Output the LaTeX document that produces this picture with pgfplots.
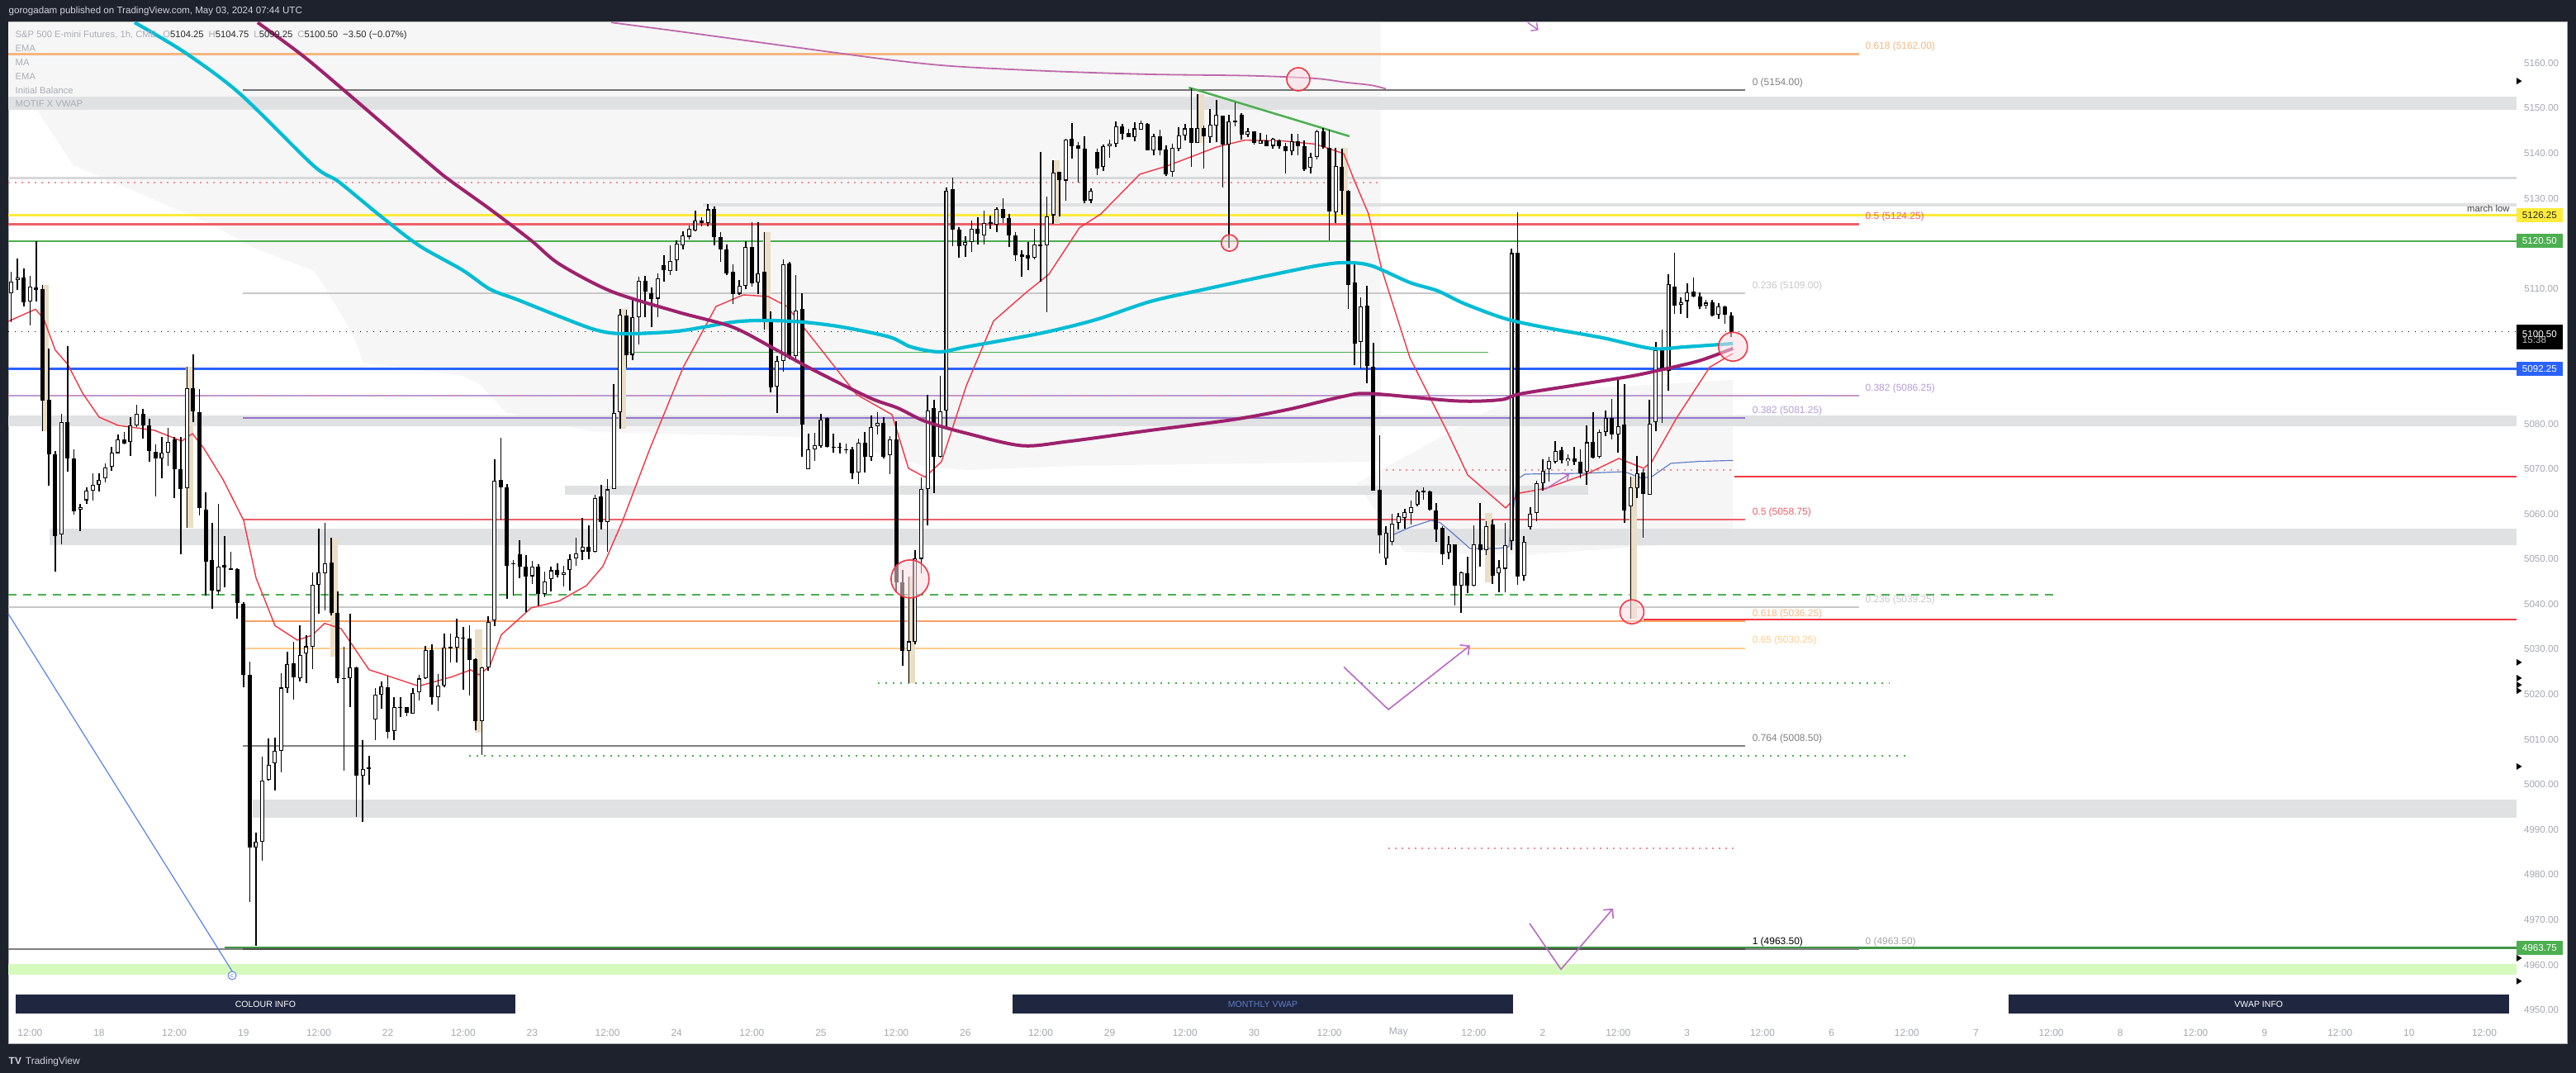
\documentclass[border=0pt]{standalone}
\usepackage{pgfplots}
\usepackage{pgfplotstable}
\usepackage{fontspec}
\setmainfont{Liberation Sans}
\pgfplotsset{compat=1.18}
\usetikzlibrary{arrows.meta}

\definecolor{tvdark}{RGB}{30,34,45}
\definecolor{tvtick}{RGB}{165,168,178}
\definecolor{legray}{RGB}{170,173,182}
\definecolor{tvband}{RGB}{224,225,227}
\definecolor{tvshade}{RGB}{246,246,246}
\definecolor{tvcyan}{RGB}{0,188,212}
\definecolor{tvmag}{RGB}{158,33,108}
\definecolor{tvred}{RGB}{242,54,69}
\definecolor{tvmauve}{RGB}{190,105,170}
\definecolor{fibor}{RGB}{247,182,130}
\definecolor{fibred}{RGB}{240,95,105}
\definecolor{fibpur}{RGB}{179,157,219}
\definecolor{fibpur2}{RGB}{149,117,205}
\definecolor{fibgray}{RGB}{200,200,200}
\definecolor{fiblor}{RGB}{255,205,140}
\definecolor{fibor2}{RGB}{247,160,100}
\definecolor{tvyellow}{RGB}{255,235,59}
\definecolor{tvgreen}{RGB}{76,175,80}
\definecolor{tvblue}{RGB}{41,98,255}
\definecolor{lgreen}{RGB}{214,250,190}
\definecolor{navy}{RGB}{31,38,64}
\definecolor{beige}{RGB}{234,222,198}
\definecolor{pinkdot}{RGB}{245,140,150}
\definecolor{tvpurple}{RGB}{186,104,200}
\definecolor{diagblue}{RGB}{90,130,240}
\definecolor{vwapblue}{RGB}{95,125,200}
\definecolor{circfill}{RGB}{250,222,226}
\definecolor{hline}{RGB}{215,216,220}

\newcommand\fs[1]{\fontsize{#1}{#1}\selectfont}
\newcommand\scalemark[1]{\fill[black] (axis cs:385.13,#1) ++(0cm,0.04cm) -- ++(0.065cm,-0.04cm) -- ++(-0.065cm,-0.04cm) -- cycle;}

% hourly candles: bar index (0 = Apr 18 00:00), open high low close
\pgfplotstableread{
i o h l c
-14 5109.1 5113.9 5102.7 5111.7
-13 5111.9 5116.8 5109.8 5112.5
-12 5112.5 5114.6 5106.2 5107.0
-11 5107.2 5112.8 5101.9 5110.6
-10 5110.4 5120.6 5107.2 5109.8
-9 5109.8 5110.7 5078.3 5085.2
-8 5085.4 5096.7 5066.4 5073.4
-7 5073.4 5074.0 5047.2 5055.2
-6 5055.4 5082.3 5053.3 5080.4
-5 5080.4 5097.2 5069.5 5072.4
-4 5072.5 5074.5 5059.9 5060.8
-3 5061.1 5062.3 5056.3 5061.7
-2 5063.1 5066.0 5062.3 5065.2
-1 5065.2 5069.2 5063.2 5066.5
0 5066.6 5069.2 5065.0 5067.6
1 5068.0 5071.4 5067.1 5070.5
2 5070.5 5075.1 5069.8 5073.7
3 5073.7 5077.7 5073.5 5076.7
4 5076.7 5078.3 5075.4 5075.8
5 5076.1 5081.5 5073.0 5079.7
6 5079.7 5084.3 5079.3 5082.2
7 5082.2 5083.3 5076.7 5079.7
8 5079.7 5081.1 5071.6 5074.0
9 5073.9 5075.4 5063.9 5072.4
10 5072.4 5077.1 5067.9 5073.7
11 5073.7 5079.3 5070.8 5076.1
12 5076.6 5077.3 5063.6 5070.0
13 5070.0 5077.2 5051.2 5065.7
14 5065.7 5092.6 5057.0 5087.8
15 5087.8 5095.5 5080.4 5082.8
16 5082.8 5087.8 5059.7 5061.5
17 5061.1 5065.0 5042.1 5049.4
18 5049.8 5058.1 5039.2 5043.0
19 5043.0 5062.3 5042.1 5048.4
20 5048.7 5055.2 5043.7 5048.2
21 5048.0 5051.7 5047.5 5047.6
22 5047.8 5048.0 5036.8 5040.2
23 5040.2 5040.5 5021.6 5024.4
24 5024.4 5027.3 4974.1 4986.1
25 4986.1 4989.3 4964.2 4987.4
26 4987.4 5006.2 4983.2 5000.9
27 5001.2 5010.3 5001.0 5004.4
28 5004.9 5010.5 4998.8 5007.6
29 5007.6 5024.9 5002.8 5021.6
30 5021.6 5029.6 5020.4 5026.9
31 5026.9 5031.7 5018.8 5023.8
32 5023.8 5035.4 5023.0 5028.9
33 5029.2 5033.1 5022.5 5030.7
34 5030.6 5047.2 5025.7 5044.4
35 5044.3 5056.9 5037.9 5047.1
36 5047.1 5058.2 5038.8 5049.3
37 5049.3 5054.7 5037.5 5038.2
38 5038.2 5042.9 5022.5 5023.7
39 5023.6 5030.7 5003.1 5023.5
40 5023.6 5037.9 5017.3 5026.0
41 5026.0 5026.2 4993.0 5002.1
42 5002.1 5009.9 4991.8 5003.6
43 5003.7 5006.4 5000.1 5003.8
44 5014.5 5021.5 5009.9 5020.1
45 5020.1 5022.9 5016.9 5022.0
46 5021.7 5024.2 5010.3 5011.7
47 5011.9 5019.5 5009.9 5017.3
48 5017.2 5019.5 5015.2 5017.1
49 5017.1 5017.3 5015.2 5015.9
50 5015.9 5021.5 5015.8 5020.4
51 5020.6 5024.4 5018.7 5023.6
52 5023.6 5030.7 5023.4 5030.0
53 5029.8 5031.3 5017.8 5019.5
54 5019.4 5024.5 5016.4 5022.0
55 5022.0 5033.5 5021.5 5030.4
56 5030.4 5033.5 5027.1 5030.5
57 5030.4 5036.7 5027.1 5032.8
58 5032.5 5035.1 5021.1 5032.5
59 5032.5 5035.3 5019.7 5027.9
60 5027.9 5028.0 5012.2 5014.1
61 5014.1 5026.2 5006.6 5026.0
62 5026.0 5037.4 5025.3 5036.0
63 5036.5 5072.2 5035.1 5067.5
64 5067.5 5077.0 5058.9 5065.9
65 5065.9 5066.6 5041.2 5048.6
66 5049.1 5049.8 5041.9 5049.0
67 5051.2 5054.3 5045.8 5048.5
68 5048.5 5051.0 5038.4 5046.3
69 5046.3 5049.6 5044.4 5048.5
70 5048.5 5048.8 5039.8 5042.3
71 5042.3 5047.3 5041.6 5045.1
72 5045.6 5048.4 5043.0 5047.6
73 5047.7 5049.1 5046.0 5046.6
74 5046.6 5048.6 5044.0 5047.2
75 5047.7 5051.0 5043.0 5050.2
76 5050.2 5054.7 5048.6 5051.4
77 5051.7 5059.2 5049.9 5052.7
78 5052.7 5057.5 5050.0 5051.7
79 5051.7 5064.3 5051.4 5063.6
80 5063.9 5066.6 5056.6 5058.2
81 5058.2 5067.8 5051.6 5065.5
82 5065.7 5088.9 5065.6 5082.6
83 5082.6 5105.6 5078.9 5104.2
84 5104.2 5105.3 5092.6 5095.3
85 5095.3 5108.0 5094.1 5103.7
86 5103.8 5112.8 5097.7 5111.8
87 5111.8 5112.8 5103.7 5109.3
88 5109.1 5110.3 5101.5 5107.8
89 5107.8 5113.4 5103.7 5112.3
90 5115.2 5117.5 5111.6 5114.2
91 5114.0 5119.6 5113.0 5116.2
92 5116.2 5120.9 5114.0 5120.0
93 5119.7 5122.8 5118.7 5121.8
94 5121.5 5123.9 5120.9 5123.3
95 5123.1 5127.3 5122.8 5125.2
96 5125.2 5126.0 5123.9 5124.5
97 5124.5 5128.8 5123.9 5127.6
98 5127.6 5128.2 5119.6 5121.5
99 5121.5 5122.5 5116.0 5118.8
100 5118.8 5119.8 5113.0 5113.4
101 5113.8 5115.4 5106.7 5108.9
102 5108.9 5111.9 5108.6 5110.6
103 5110.6 5120.5 5110.0 5119.3
104 5119.4 5124.8 5110.6 5111.3
105 5111.3 5124.8 5108.8 5113.4
106 5113.8 5122.5 5100.9 5103.3
107 5103.0 5105.0 5087.1 5088.2
108 5088.2 5095.1 5082.4 5094.0
109 5094.0 5116.6 5091.6 5115.5
110 5115.5 5116.0 5094.3 5095.1
111 5095.1 5113.1 5093.6 5105.2
112 5105.6 5109.1 5072.7 5079.9
113 5070.1 5077.9 5070.1 5074.5
114 5074.5 5078.1 5071.9 5075.3
115 5075.1 5082.2 5074.7 5081.1
116 5081.4 5081.6 5074.7 5074.9
117 5074.9 5077.9 5073.6 5074.8
118 5074.9 5075.9 5073.6 5074.9
119 5074.5 5075.7 5073.4 5074.4
120 5074.4 5074.9 5067.7 5069.2
121 5069.2 5076.9 5066.7 5075.9
122 5075.9 5078.3 5069.2 5072.7
123 5072.7 5081.9 5071.9 5079.4
124 5079.4 5082.8 5077.7 5080.2
125 5080.2 5081.6 5072.3 5072.7
126 5073.2 5077.2 5068.7 5076.6
127 5076.6 5080.7 5042.8 5045.0
128 5045.0 5047.6 5026.3 5029.7
129 5029.7 5046.3 5022.6 5031.8
130 5031.8 5052.1 5031.2 5050.2
131 5050.2 5068.2 5046.9 5065.7
132 5065.7 5086.5 5057.5 5083.1
133 5083.5 5085.4 5064.8 5072.7
134 5072.7 5090.8 5072.7 5082.9
135 5082.9 5132.5 5079.4 5131.7
136 5132.1 5134.7 5119.5 5123.1
137 5123.1 5123.7 5117.0 5119.5
138 5119.7 5121.6 5117.1 5120.4
139 5120.4 5125.2 5118.3 5123.3
140 5123.3 5125.9 5119.8 5122.2
141 5121.8 5127.4 5119.9 5124.6
142 5124.7 5126.2 5123.2 5124.4
143 5124.3 5128.0 5122.6 5127.7
144 5127.7 5130.0 5124.6 5125.8
145 5125.8 5126.6 5119.3 5121.8
146 5121.8 5122.6 5116.2 5117.5
147 5117.7 5118.5 5112.7 5117.1
148 5117.5 5120.3 5114.2 5116.8
149 5116.8 5123.3 5116.5 5119.8
150 5119.7 5140.4 5111.6 5119.6
151 5119.7 5130.5 5104.9 5126.1
152 5126.4 5138.4 5124.4 5135.9
153 5135.9 5136.0 5126.0 5134.1
154 5134.1 5143.2 5129.4 5143.2
155 5143.2 5146.6 5138.8 5141.7
156 5141.8 5142.6 5133.5 5141.2
157 5141.2 5144.0 5129.1 5129.7
158 5129.7 5132.3 5129.1 5131.8
159 5140.4 5141.1 5135.1 5136.8
160 5137.0 5142.0 5136.2 5141.7
161 5141.7 5143.0 5139.0 5142.2
162 5142.2 5147.0 5141.4 5146.0
163 5146.0 5146.4 5142.9 5144.4
164 5144.5 5145.5 5143.7 5143.7
165 5143.6 5147.0 5142.9 5145.6
166 5145.2 5147.2 5145.2 5146.7
167 5146.6 5146.6 5140.6 5140.8
168 5140.8 5144.4 5139.6 5143.8
169 5143.8 5145.3 5139.6 5140.8
170 5140.9 5141.8 5135.1 5135.5
171 5135.9 5142.3 5134.9 5141.2
172 5141.1 5145.9 5140.5 5144.0
173 5144.0 5146.6 5142.9 5145.6
174 5145.6 5154.5 5137.0 5142.4
175 5142.3 5153.2 5142.3 5145.6
176 5145.6 5146.3 5136.8 5143.7
177 5143.7 5149.9 5142.4 5146.4
178 5146.3 5152.0 5142.6 5148.7
179 5148.5 5148.5 5132.5 5142.0
180 5142.0 5148.7 5119.2 5147.2
181 5147.2 5151.4 5146.0 5147.1
182 5148.5 5149.0 5143.2 5144.2
183 5144.2 5145.6 5143.6 5144.9
184 5144.9 5145.0 5142.0 5142.3
185 5142.3 5144.4 5142.2 5143.0
186 5143.0 5144.2 5141.7 5141.7
187 5141.7 5143.5 5141.2 5143.2
188 5143.0 5143.2 5141.2 5141.6
189 5141.6 5142.3 5135.5 5140.5
190 5140.5 5144.4 5139.7 5142.8
191 5142.8 5144.4 5139.7 5141.7
192 5141.7 5143.0 5136.2 5136.5
193 5136.8 5140.2 5135.5 5139.1
194 5139.3 5145.3 5138.8 5145.0
195 5144.9 5145.6 5141.1 5141.4
196 5141.2 5145.3 5120.7 5127.1
197 5127.1 5141.1 5124.4 5137.4
198 5137.1 5141.1 5126.5 5131.8
199 5131.8 5132.0 5105.7 5110.8
200 5111.3 5115.6 5093.1 5097.8
201 5098.2 5108.0 5092.2 5106.0
202 5106.3 5110.6 5089.0 5092.8
203 5092.7 5097.9 5065.1 5065.2
204 5065.4 5077.5 5051.3 5055.2
205 5050.2 5057.4 5048.7 5055.9
206 5053.8 5060.1 5053.1 5057.9
207 5058.1 5060.3 5056.7 5059.6
208 5059.2 5061.3 5056.9 5060.5
209 5060.3 5063.0 5057.8 5061.5
210 5062.1 5065.4 5061.8 5065.0
211 5065.0 5065.9 5063.2 5065.0
212 5065.0 5065.2 5060.8 5061.0
213 5061.0 5062.5 5054.0 5056.7
214 5057.0 5057.4 5048.7 5051.3
215 5051.4 5055.2 5050.1 5053.3
216 5053.3 5053.3 5039.8 5044.2
217 5044.2 5047.3 5038.2 5047.1
218 5046.9 5050.7 5042.6 5044.2
219 5044.2 5057.4 5044.0 5053.3
220 5053.3 5062.5 5048.4 5052.0
221 5052.0 5058.5 5051.0 5057.4
222 5057.8 5058.9 5044.6 5046.3
223 5046.8 5049.8 5042.7 5048.2
224 5048.0 5058.1 5042.7 5053.3
225 5054.0 5118.9 5052.0 5117.9
226 5118.0 5126.9 5044.4 5046.2
227 5046.3 5055.2 5045.3 5053.8
228 5057.2 5061.7 5056.7 5060.1
229 5060.3 5067.5 5058.4 5066.8
230 5067.0 5072.2 5065.2 5069.7
231 5069.9 5072.6 5067.2 5071.7
232 5071.7 5076.2 5071.2 5074.1
233 5074.1 5074.8 5071.2 5071.9
234 5071.9 5073.3 5070.8 5072.4
235 5072.4 5074.8 5070.8 5071.7
236 5071.7 5074.4 5067.9 5069.0
237 5069.4 5079.7 5066.5 5076.0
238 5076.0 5082.7 5072.4 5072.6
239 5072.6 5078.9 5072.4 5078.2
240 5078.2 5083.1 5077.3 5081.3
241 5081.3 5085.6 5076.6 5077.7
242 5077.7 5090.0 5073.7 5079.5
243 5079.9 5088.9 5058.1 5061.0
244 5061.8 5068.3 5036.8 5065.9
245 5065.9 5073.1 5063.6 5069.2
246 5069.3 5070.1 5054.9 5064.4
247 5064.4 5085.4 5064.4 5080.2
248 5080.4 5098.2 5078.4 5096.3
249 5096.3 5100.9 5080.2 5091.8
250 5091.8 5113.2 5087.3 5111.1
251 5110.4 5118.0 5104.5 5106.3
252 5106.4 5108.1 5104.5 5107.0
253 5107.2 5111.2 5103.5 5109.2
254 5109.3 5112.4 5108.1 5108.3
255 5108.3 5109.2 5105.6 5106.2
256 5106.3 5107.4 5105.4 5107.0
257 5107.0 5107.4 5103.8 5104.1
258 5104.3 5106.9 5103.3 5106.1
259 5106.1 5106.4 5102.3 5104.3
260 5104.25 5104.75 5099.25 5100.50
}\candles

% session highlight bars
\pgfplotstableread{
i lo hi
-8.6 5078.3 5110.7
14.4 5057.0 5092.6
37.4 5028.5 5054.7
60.4 5011.7 5034.6
83.4 5078.9 5105.6
106.4 5100.9 5122.5
129.4 5022.6 5046.3
152.4 5124.4 5138.4
175.4 5142.3 5153.2
198.4 5126.5 5141.2
221.4 5044.9 5060.3
244.4 5036.8 5068.3
}\hilite

\pgfplotstableread{
i p
5.66 5169.0
13.55 5162.45
22.37 5153.29
34.08 5137.35
38.16 5133.69
44.74 5126.18
50.92 5119.58
57.89 5114.09
62.24 5109.88
66.71 5107.49
73.29 5103.83
78.95 5100.90
83.29 5099.98
92.11 5100.53
100.92 5102.55
106.18 5102.92
112.24 5102.55
118.42 5101.45
125.92 5099.25
129.34 5097.05
133.82 5095.95
138.16 5097.05
150.0 5100.08
158.82 5103.10
167.5 5107.13
176.3 5109.88
185.1 5112.53
193.8 5115.0
198.3 5115.74
202.6 5115.1
208.8 5111.34
213.2 5109.51
217.5 5106.65
224.1 5103.28
230.7 5101.27
239.5 5099.07
247.4 5096.69
252.6 5097.05
260.3 5097.79
}\macyan

\pgfplotstableread{
i p
25.26 5169.0
32.37 5161.72
38.82 5154.2
52.89 5137.35
56.18 5133.69
62.24 5127.64
68.82 5120.68
73.29 5115.46
81.58 5109.38
92.11 5104.82
100.92 5101.45
107.5 5096.69
114.08 5091.74
122.76 5085.77
127.24 5083.5
131.58 5080.57
138.16 5077.91
146.97 5075.16
154.34 5076.08
167.5 5078.55
180.66 5080.93
189.47 5083.19
198.3 5086.1
202.6 5086.7
216.2 5085.07
223.3 5085.33
226.3 5086.61
235.1 5088.55
243.8 5090.5
248.3 5091.8
254.9 5093.97
260.3 5096.72
}\mamag

\pgfplotstableread{
i p
81.6 5169.0
94.1 5166.7
109.9 5163.7
125.5 5160.8
136.1 5159.3
151.7 5158.2
167.4 5157.5
183.2 5157.2
193.6 5156.6
198.7 5155.7
202.6 5155.1
205.0 5154.3
}\mamauve

\pgfplotstableread{
i p
-14.47 5102.73
-10.13 5105.39
-8.82 5103.28
-6.97 5096.32
-5.0 5093.2
-2.63 5086.8
0 5081.48
3.03 5079.65
8.82 5078.55
13.16 5076.17
14.87 5077.82
16.71 5074.52
19.74 5067.65
23.03 5058.58
25.0 5045.85
28.03 5035.23
31.58 5032.02
33.95 5033.12
35.92 5035.74
38.55 5034.59
43.03 5025.43
45.13 5024.51
50.92 5021.82
56.18 5023.87
59.21 5025.43
60.53 5024.33
62.24 5026.21
64.08 5033.21
68.82 5039.16
73.29 5040.7
77.63 5044.11
80.26 5048.38
83.29 5058.09
87.76 5074.52
93.03 5092.47
98.29 5106.03
102.63 5108.59
106.58 5108.23
109.61 5106.03
114.08 5098.15
120.66 5086.5
126.32 5082.03
128.95 5070.12
131.58 5068.18
134.21 5071.59
138.16 5088.44
142.5 5102.8
147.76 5109.2
151.32 5113.17
156.18 5123.47
159.61 5126.55
165.79 5135.34
170.13 5137.17
174.08 5139.26
178.03 5141.38
182.5 5142.9
188.55 5142.74
193.82 5142.01
198.29 5139.92
200.0 5133.87
202.24 5126.55
204.34 5114.27
208.82 5094.67
214.87 5078.0
218.03 5068.66
224.08 5061.33
226.32 5064.63
230.66 5065.73
237.24 5069.03
242.11 5072.32
246.05 5070.13
247.37 5071.59
251.32 5081.3
256.58 5092.53
260.26 5095.59
}\emared

\pgfplotstableread{
i p
206.3 5055.47
208.8 5057.03
212.2 5058.58
213.6 5058.12
215.4 5056.02
218.4 5052.35
222.8 5052.35
224.6 5052.72
225.9 5067.74
227.2 5068.84
236.8 5069.03
243.0 5069.39
245.7 5067.93
247.4 5068.3
250.4 5071.23
254.9 5071.66
260.3 5071.88
}\vwap

\begin{document}
\begin{tikzpicture}
\useasboundingbox (0,0) rectangle (31.19,12.99);
\fill[tvdark] (0,0) rectangle (31.19,12.99);
\fill[white, draw=gray!60, line width=0.01cm] (0.10,0.35) rectangle (31.08,12.72);
\node[anchor=west, inner sep=0, text={rgb,255:red,209;green,212;blue,220}, font=\fs{3.3}] at (0.10,12.85)
  {gorogadam published on TradingView.com, May 03, 2024 07:44 UTC};
\node[anchor=west, inner sep=0, text={rgb,255:red,209;green,212;blue,220}, font=\fs{3.4}] at (0.10,0.14)
  {\textbf{TV}\hspace{0.05cm}TradingView};

\begin{axis}[
  at={(0.10cm,0.63cm)}, anchor=south west,
  scale only axis, width=30.37cm, height=12.09cm,
  xmin=-14.47, xmax=385.13, ymin=4947.57, ymax=5169.04,
  clip=false,
  axis line style={draw=none},
  major tick length=0,
  ytick={4950,4960,4970,4980,4990,5000,5010,5020,5030,5040,5050,5060,5070,5080,5110,5130,5140,5150,5160},
  yticklabel pos=right,
  yticklabel style={anchor=center, xshift=0.30cm, text=tvtick, font=\fs{3.3},
    /pgf/number format/.cd, fixed, fixed zerofill, precision=2, 1000 sep={}, assume math mode=true},
  xtick={-11,0,12,23,35,46,58,69,81,92,104,115,127,138,150,161,173,184,196,207,219,230,242,253,265,276,288,299,311,322,334,345,357,368,380},
  xticklabels={12:00,18,12:00,19,12:00,22,12:00,23,12:00,24,12:00,25,12:00,26,12:00,29,12:00,30,12:00,May,12:00,2,12:00,3,12:00,6,12:00,7,12:00,8,12:00,9,12:00,10,12:00},
  xticklabel style={anchor=center, yshift=-0.14cm, text=tvtick, font=\fs{3.4}},
]

% value-area shading
\fill[tvshade] (axis cs:-14.47,5169.04) -- (axis cs:204.2,5169.04) -- (axis cs:204.2,5071.59)
  -- (axis cs:202.6,5071.59) -- (axis cs:155.3,5070.68) -- (axis cs:138.2,5069.76) -- (axis cs:131.6,5070.49)
  -- (axis cs:115.8,5076.90) -- (axis cs:102.6,5077.45) -- (axis cs:78.9,5078.18) -- (axis cs:64.9,5082.40)
  -- (axis cs:60.5,5089.0) -- (axis cs:57.9,5090.64) -- (axis cs:42.1,5093.57) -- (axis cs:40.4,5099.98) -- (axis cs:35.1,5112.26)
  -- (axis cs:34.2,5113.91) -- (axis cs:24.6,5119.03) -- (axis cs:17.5,5124.53) -- (axis cs:-4.1,5137.35)
  -- (axis cs:-9.9,5149.63) -- (axis cs:-14.47,5152.01) -- cycle;
\fill[tvshade] (axis cs:200.4,5066.83) -- (axis cs:226.7,5086.98) -- (axis cs:260.3,5089.73)
  -- (axis cs:260.3,5054.19) -- (axis cs:226.7,5050.89) -- (axis cs:207.9,5051.63) -- cycle;

% zones
\fill[tvband] (axis cs:-14.47,5149.6) rectangle (axis cs:385.13,5152.6);
\fill[tvband] (axis cs:96.2,5128.1) rectangle (axis cs:385.13,5129.0);
\fill[tvband] (axis cs:-14.47,5079.5) rectangle (axis cs:385.13,5081.9);
\fill[tvband] (axis cs:74.2,5064.3) rectangle (axis cs:237.2,5066.3);
\fill[tvband] (axis cs:-7.9,5053.1) rectangle (axis cs:385.13,5056.8);
\fill[tvband] (axis cs:24.5,4992.6) rectangle (axis cs:385.13,4996.7);
\fill[lgreen] (axis cs:-14.47,4957.8) rectangle (axis cs:385.13,4960.2);

% level lines
\draw[hline, line width=0.03cm] (axis cs:-14.47,5134.5) -- (axis cs:385.13,5134.5);
\draw[tvyellow, line width=0.028cm] (axis cs:-14.47,5126.25) -- (axis cs:385.13,5126.25);
\draw[tvgreen, line width=0.028cm] (axis cs:-14.47,5120.5) -- (axis cs:385.13,5120.5);
\draw[black, line width=0.01cm, dotted] (axis cs:-14.47,5100.5) -- (axis cs:385.13,5100.5);
\draw[tvgreen, line width=0.01cm] (axis cs:84.3,5095.8) -- (axis cs:221.3,5095.8);
\draw[tvblue, line width=0.028cm] (axis cs:-14.47,5092.25) -- (axis cs:385.13,5092.25);
\draw[tvred, line width=0.012cm] (axis cs:260.5,5068.3) -- (axis cs:385.13,5068.3);
\draw[tvred, line width=0.014cm] (axis cs:246,5036.6) -- (axis cs:385.13,5036.6);
\draw[tvgreen, line width=0.025cm, dash pattern=on 0.1cm off 0.08cm] (axis cs:-14.47,5042.1) -- (axis cs:311.4,5042.1);
\draw[tvgreen, line width=0.025cm, dash pattern=on 0.02cm off 0.07cm] (axis cs:124.1,5022.5) -- (axis cs:285.3,5022.5);
\draw[tvgreen, line width=0.025cm, dash pattern=on 0.02cm off 0.07cm] (axis cs:58.9,5006.4) -- (axis cs:288.4,5006.4);
\draw[pinkdot, line width=0.02cm, dash pattern=on 0.02cm off 0.06cm] (axis cs:-14.47,5133.5) -- (axis cs:204.3,5133.5);
\draw[pinkdot, line width=0.02cm, dash pattern=on 0.02cm off 0.06cm] (axis cs:205,5069.8) -- (axis cs:260.5,5069.8);
\draw[pinkdot, line width=0.02cm, dash pattern=on 0.02cm off 0.06cm] (axis cs:205.4,4985.9) -- (axis cs:260.5,4985.9);
\draw[tvgreen!85!black, line width=0.025cm] (axis cs:20,4963.75) -- (axis cs:385.13,4963.75);

% fib retracement 2 (4963.50 -> 5285)
\draw[fibor, line width=0.022cm] (axis cs:-14.47,5162) -- (axis cs:280.4,5162);
\draw[fibred, line width=0.022cm] (axis cs:-14.47,5124.25) -- (axis cs:280.4,5124.25);
\draw[fibpur, line width=0.022cm] (axis cs:-14.47,5086.25) -- (axis cs:280.4,5086.25);
\draw[pinkdot, line width=0.012cm, dash pattern=on 0.015cm off 0.06cm] (axis cs:-14.47,5086.25) -- (axis cs:280.4,5086.25);
\draw[fibgray, line width=0.022cm] (axis cs:-14.47,5039.37) -- (axis cs:280.4,5039.37);
\draw[gray, line width=0.022cm] (axis cs:-14.47,4963.5) -- (axis cs:280.4,4963.5);
% fib retracement 1 (5154 -> 4963.50)
\draw[gray!110, line width=0.022cm] (axis cs:22.9,5154) -- (axis cs:262.2,5154);
\draw[fibgray, line width=0.022cm] (axis cs:22.9,5109) -- (axis cs:262.2,5109);
\draw[fibpur2, line width=0.022cm] (axis cs:22.9,5081.25) -- (axis cs:262.2,5081.25);
\draw[fibred, line width=0.022cm] (axis cs:22.9,5058.75) -- (axis cs:262.2,5058.75);
\draw[fibor2, line width=0.022cm] (axis cs:22.9,5036.25) -- (axis cs:262.2,5036.25);
\draw[fiblor, line width=0.022cm] (axis cs:22.9,5030.25) -- (axis cs:262.2,5030.25);
\draw[gray, line width=0.022cm] (axis cs:22.9,5008.5) -- (axis cs:262.2,5008.5);
\draw[black!70, line width=0.02cm] (axis cs:22.9,4963.5) -- (axis cs:262.2,4963.5);

% fib labels
\begin{scope}[every node/.style={anchor=south west, inner sep=0, yshift=0.025cm, font=\fs{3.4}}]
\node[text=fibor] at (axis cs:281.3,5162) {0.618 (5162.00)};
\node[text=fibred] at (axis cs:281.3,5124.25) {0.5 (5124.25)};
\node[text=fibpur] at (axis cs:281.3,5086.25) {0.382 (5086.25)};
\node[text=fibgray] at (axis cs:281.3,5039.37) {0.236 (5039.25)};
\node[text=gray!70] at (axis cs:281.3,4963.5) {0 (4963.50)};
\node[text=gray] at (axis cs:263.3,5154) {0 (5154.00)};
\node[text=fibgray] at (axis cs:263.3,5109) {0.236 (5109.00)};
\node[text=fibpur] at (axis cs:263.3,5081.25) {0.382 (5081.25)};
\node[text=fibred] at (axis cs:263.3,5058.75) {0.5 (5058.75)};
\node[text=fibor] at (axis cs:263.3,5036.25) {0.618 (5036.25)};
\node[text=fiblor] at (axis cs:263.3,5030.25) {0.65 (5030.25)};
\node[text=gray] at (axis cs:263.3,5008.5) {0.764 (5008.50)};
\node[text=black] at (axis cs:263.3,4963.5) {1 (4963.50)};
\end{scope}

% trend line and ray
\draw[tvgreen, line width=0.025cm] (axis cs:173.6,5154.57) -- (axis cs:199.2,5143.76);
\draw[diagblue, line width=0.012cm] (axis cs:-14.47,5037.88) -- (axis cs:21.2,4958.6);
\draw[diagblue, line width=0.01cm, fill=white] (axis cs:21.2,4957.65) circle[radius=0.05cm];
\node[text=diagblue, font=\fs{2.2}, inner sep=0] at (axis cs:21.2,4957.65) {c};

% session highlights
\addplot[draw=none, forget plot, error bars/.cd, y dir=both, y explicit, error mark=none,
  error bar style={draw=beige, line width=0.09cm}]
  table[x=i, y expr={(\thisrow{lo}+\thisrow{hi})/2}, y error expr={(\thisrow{hi}-\thisrow{lo})/2}] {\hilite};

% anchored vwap and fast EMA
\addplot[vwapblue, line width=0.012cm] table[x=i, y=p] {\vwap};
\addplot[tvred, line width=0.014cm] table[x=i, y=p] {\emared};

% candles: wicks, bodies, hollow up bodies
\addplot[draw=none, forget plot, error bars/.cd, y dir=both, y explicit, error mark=none,
  error bar style={draw=black, line width=0.015cm}]
  table[x=i, y expr={(\thisrow{h}+\thisrow{l})/2}, y error expr={(\thisrow{h}-\thisrow{l})/2}] {\candles};
\addplot[draw=none, forget plot, error bars/.cd, y dir=both, y explicit, error mark=none,
  error bar style={draw=black, line width=0.05cm}]
  table[x=i, y expr={(\thisrow{o}+\thisrow{c})/2}, y error expr={max(abs(\thisrow{c}-\thisrow{o})/2,0.12)}] {\candles};
\addplot[draw=none, forget plot, error bars/.cd, y dir=both, y explicit, error mark=none,
  error bar style={draw=white, line width=0.028cm}]
  table[x=i, y expr={(\thisrow{o}+\thisrow{c})/2}, y error expr={max((\thisrow{c}-\thisrow{o})/2-0.2,0)}] {\candles};

% moving averages
\addplot[tvmauve, line width=0.018cm, smooth] table[x=i, y=p] {\mamauve};
\addplot[tvcyan, line width=0.042cm, smooth] table[x=i, y=p] {\macyan};
\addplot[tvmag, line width=0.04cm, smooth] table[x=i, y=p] {\mamag};

% marked spots
\draw[tvred, line width=0.016cm, fill=circfill, fill opacity=0.55] (axis cs:191.05,5156.4) circle[radius=0.14cm];
\draw[tvred, line width=0.016cm, fill=circfill, fill opacity=0.55] (axis cs:180.1,5120.1) circle[radius=0.10cm];
\draw[tvred, line width=0.016cm, fill=circfill, fill opacity=0.55] (axis cs:129.2,5045.6) circle[radius=0.23cm];
\draw[tvred, line width=0.016cm, fill=circfill, fill opacity=0.55] (axis cs:244.2,5038.3) circle[radius=0.145cm];
\draw[tvred, line width=0.016cm, fill=circfill, fill opacity=0.55] (axis cs:260.3,5097.1) circle[radius=0.175cm];

% arrows
\draw[tvpurple, line width=0.016cm, -{Straight Barb[length=0.08cm]}] (axis cs:198.3,5026.07) -- (axis cs:205.4,5016.63) -- (axis cs:218.4,5030.83);
\draw[tvpurple, line width=0.016cm, -{Straight Barb[length=0.08cm]}] (axis cs:227.9,4969.2) -- (axis cs:232.9,4959.03) -- (axis cs:241.2,4972.5);
\draw[tvpurple, line width=0.014cm, -{Straight Barb[length=0.06cm]}] (axis cs:230.3,5065.4) -- (axis cs:234.2,5068.8);
\draw[tvpurple, line width=0.014cm, -{Straight Barb[length=0.06cm]}] (axis cs:227.6,5169.0) -- (axis cs:229.3,5167.3);

% info boxes
\fill[navy] (axis cs:-13.29,4949.22) rectangle (axis cs:66.32,4953.44);
\node[text=white, font=\fs{3.0}] at (axis cs:26.5,4951.33) {COLOUR INFO};
\fill[navy] (axis cs:145.5,4949.22) rectangle (axis cs:225.3,4953.44);
\node[text=vwapblue, font=\fs{3.0}] at (axis cs:185.4,4951.33) {MONTHLY VWAP};
\fill[navy] (axis cs:304.2,4949.22) rectangle (axis cs:383.9,4953.44);
\node[text=white, font=\fs{3.0}] at (axis cs:344.05,4951.33) {VWAP INFO};

% legend text
\begin{scope}[every node/.style={anchor=west, inner sep=0, font=\fs{3.2}, text=legray}]
\node at (axis cs:-13.42,5166.1) {S\&P 500 E-mini Futures, 1h, CME\hspace{0.08cm}O{\color{black!85}5104.25}\hspace{0.06cm}H{\color{black!85}5104.75}\hspace{0.06cm}L{\color{black!85}5099.25}\hspace{0.06cm}C{\color{black!85}5100.50}\hspace{0.06cm}{\color{black!85}−3.50 (−0.07\%)}};
\node at (axis cs:-13.42,5163.2) {EMA};
\node at (axis cs:-13.42,5160.07) {MA};
\node at (axis cs:-13.42,5156.95) {EMA};
\node at (axis cs:-13.42,5153.84) {Initial Balance};
\node at (axis cs:-13.42,5150.9) {MOTIF X VWAP};
\end{scope}
\node[anchor=east, inner sep=0, font=\fs{3.2}, text=black!75] at (axis cs:384.1,5127.8) {march low};

% price scale tags
\begin{scope}[every node/.style={minimum width=0.56cm, minimum height=0.17cm, inner sep=0, font=\fs{3.3}}]
\node[fill=tvyellow, text=black!85] at (axis cs:388.8,5126.25) {5126.25};
\node[fill=tvgreen, text=white] at (axis cs:388.8,5120.5) {5120.50};
\node[fill=tvblue, text=white] at (axis cs:388.8,5092.25) {5092.25};
\node[fill=tvgreen, text=white] at (axis cs:388.8,4963.75) {4963.75};
\node[fill=black, text=white, minimum height=0.30cm, align=left] at (axis cs:388.8,5099.25) {5100.50\\[-0.04cm]{\color{white!75!black}15:38}};
\end{scope}

% scale markers
\scalemark{5156.0}
\scalemark{5027.1}
\scalemark{5023.6}
\scalemark{5022.1}
\scalemark{5020.8}
\scalemark{5004.0}
\scalemark{4961.5}
\scalemark{4956.4}
\end{axis}
\end{tikzpicture}
\end{document}
